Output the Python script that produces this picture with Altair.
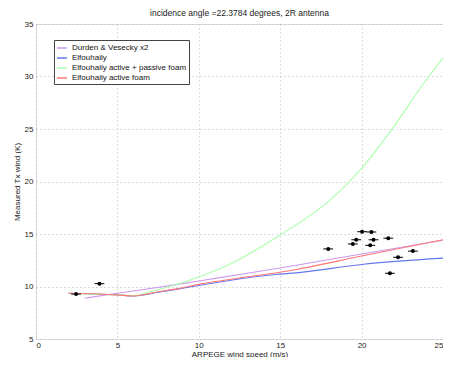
import altair as alt
import pandas as pd

FONT = "Liberation Sans"

# Model curves
durden_x = [3.0, 5.0, 8.7, 11.1, 15.9, 20.0, 25.0]
durden_y = [8.88, 9.35, 10.2, 10.8, 12.0, 13.1, 14.4]

elf_x = [2.0, 5.0, 6.0, 7.5, 8.7, 10.0, 14.7, 16.0, 20.0, 25.0]
elf_y = [9.35, 9.2, 9.1, 9.45, 9.75, 10.1, 11.14, 11.3, 12.1, 12.7]

elfap_x = [2.0, 5.0, 6.0, 7.0, 8.5, 10.0, 11.7, 15.0, 18.0, 20.0, 22.0, 23.8, 25.0]
elfap_y = [9.35, 9.2, 9.15, 9.5, 10.12, 10.9, 11.97, 14.91, 18.16, 21.26, 25.28, 29.31, 31.78]

elfa_x = [2.0, 5.0, 6.0, 7.5, 8.7, 10.0, 15.9, 20.0, 25.0]
elfa_y = [9.35, 9.2, 9.1, 9.5, 9.8, 10.2, 11.6, 12.9, 14.45]

series_names = ["Durden & Vesecky x2", "Elfouhaily",
                "Elfouhaily active + passive foam", "Elfouhaily active foam"]
series_colors = ["#cc99ee", "#6677ee", "#aaffaa", "#ff7777"]

# Measurements
obs_x = [2.46, 3.9, 20.03, 20.6, 19.67, 20.73, 21.64, 19.46, 20.53, 17.95, 23.15, 22.24, 21.74]
obs_y = [9.28, 10.27, 15.22, 15.19, 14.45, 14.45, 14.6, 14.05, 13.92, 13.58, 13.37, 12.78, 11.26]
obs_err = 0.3

rows = []
for name, xs, ys in zip(series_names,
                        [durden_x, elf_x, elfap_x, elfa_x],
                        [durden_y, elf_y, elfap_y, elfa_y]):
    for i, (a, b) in enumerate(zip(xs, ys)):
        rows.append({"series": name, "x": a, "y": b, "i": i})
lines_df = pd.DataFrame(rows)

obs_df = pd.DataFrame({"x": obs_x, "y": obs_y})
obs_df["xlo"] = obs_df["x"] - obs_err
obs_df["xhi"] = obs_df["x"] + obs_err

xscale = alt.Scale(domain=[0, 25], nice=False, zero=False)
yscale = alt.Scale(domain=[5, 35], nice=False, zero=False)

xaxis = alt.Axis(title="ARPEGE wind speed (m/s)", values=[0, 5, 10, 15, 20, 25],
                 grid=True, gridDash=[1, 3], gridColor="#bbbbbb", ticks=False,
                 domain=False, labelFontSize=8, titleFontSize=8, labelPadding=2,
                 titlePadding=1, labelColor="#222", titleColor="#222",
                 labelFont=FONT, titleFont=FONT, titleFontWeight="normal")
yaxis = alt.Axis(title="Measured Tx wind (K)", values=[5, 10, 15, 20, 25, 30, 35],
                 grid=True, gridDash=[1, 3], gridColor="#bbbbbb", ticks=False,
                 domain=False, labelFontSize=8, titleFontSize=8, labelPadding=3,
                 titlePadding=3, labelColor="#222", titleColor="#222",
                 labelFont=FONT, titleFont=FONT, titleFontWeight="normal")

lines = alt.Chart(lines_df).mark_line(strokeWidth=1.1, interpolate="monotone").encode(
    x=alt.X("x:Q", scale=xscale, axis=xaxis),
    y=alt.Y("y:Q", scale=yscale, axis=yaxis),
    order="i:Q",
    color=alt.Color("series:N",
                    scale=alt.Scale(domain=series_names, range=series_colors),
                    legend=alt.Legend(title=None, orient="none", legendX=18, legendY=16,
                                      symbolType="stroke", symbolSize=100,
                                      symbolStrokeWidth=1.5, labelFontSize=8,
                                      labelFont=FONT, labelColor="#111",
                                      rowPadding=0, padding=2,
                                      strokeColor="#444", fillColor="white",
                                      labelLimit=200)),
)

errbars = alt.Chart(obs_df).mark_rule(color="black", strokeWidth=1).encode(
    x=alt.X("xlo:Q", scale=xscale), x2="xhi:Q", y=alt.Y("y:Q", scale=yscale))

points = alt.Chart(obs_df).mark_circle(color="black", size=16, opacity=1).encode(
    x=alt.X("x:Q", scale=xscale), y=alt.Y("y:Q", scale=yscale))

chart = alt.layer(lines, errbars, points).properties(
    width=407, height=315,
    title=alt.TitleParams("incidence angle =22.3784 degrees, 2R antenna",
                          fontSize=8.5, font=FONT, fontWeight="normal",
                          color="#222", anchor="middle", offset=3),
    autosize=alt.AutoSizeParams(type="none"),
    padding={"left": 28, "top": 16, "right": 0, "bottom": 18},
).configure_view(stroke="#333", strokeWidth=1).configure(background="white")

chart.save("out.html", embed_options={"renderer": "svg", "actions": False})
